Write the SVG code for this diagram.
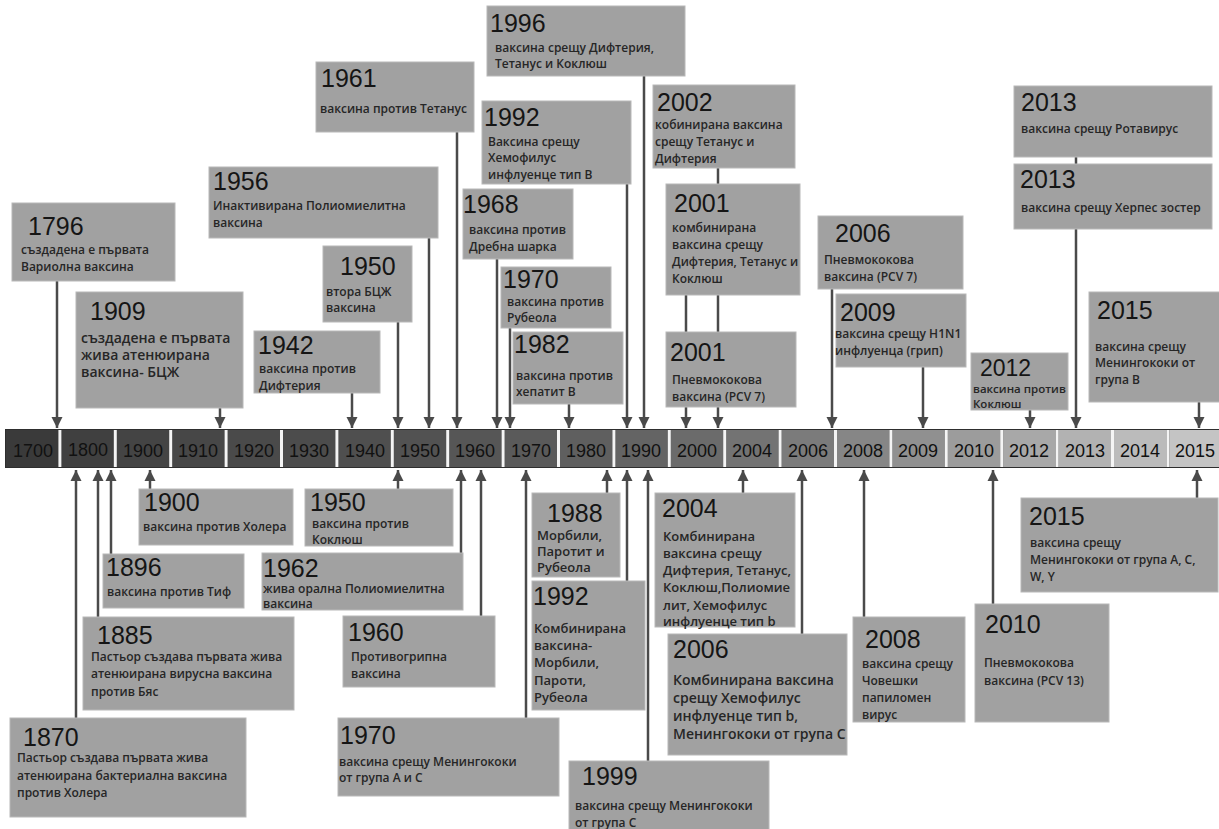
<svg xmlns="http://www.w3.org/2000/svg" width="1219" height="829" viewBox="0 0 1219 829">
<style>
.b{fill:#a1a1a1;stroke:#b8b8b8;stroke-width:1}
.y{font-family:"Liberation Sans",Arial,sans-serif;font-size:25px;fill:#151515}
.d{font-family:"Open Sans","Noto Sans",sans-serif;font-weight:600;font-size:12px;fill:#262626}
.d13{font-size:13px}
.d14{font-size:14px}
.c{stroke:#4a4a4a;stroke-width:2.5;fill:none}
.a{marker-end:url(#ah)}
.t{font-family:"Liberation Sans",Arial,sans-serif;font-size:18px;fill:#111;text-anchor:middle}
</style>
<defs>
<marker id="ah" viewBox="0 0 10 10" refX="10" refY="5" markerWidth="11" markerHeight="12" markerUnits="userSpaceOnUse" orient="auto"><path d="M0,0 L10,5 L0,10 z" fill="#4a4a4a"/></marker>
</defs>
<rect width="1219" height="829" fill="#ffffff"/>

<g id="timeline">
<rect x="5" y="429" width="1214" height="39" fill="#2e2e2e"/>
<rect x="6" y="430" width="52.4" height="37" fill="#3a3a3a"/>
<rect x="61.4" y="430" width="52.4" height="37" fill="#404040"/>
<rect x="116.8" y="430" width="52.4" height="37" fill="#444444"/>
<rect x="172.2" y="430" width="52.4" height="37" fill="#474747"/>
<rect x="227.6" y="430" width="52.4" height="37" fill="#4a4a4a"/>
<rect x="283" y="430" width="52.4" height="37" fill="#4c4c4c"/>
<rect x="338.4" y="430" width="52.4" height="37" fill="#4f4f4f"/>
<rect x="393.8" y="430" width="52.4" height="37" fill="#525252"/>
<rect x="449.2" y="430" width="52.4" height="37" fill="#565656"/>
<rect x="504.6" y="430" width="52.4" height="37" fill="#5a5a5a"/>
<rect x="560" y="430" width="52.4" height="37" fill="#5f5f5f"/>
<rect x="615.4" y="430" width="52.4" height="37" fill="#646464"/>
<rect x="670.8" y="430" width="52.4" height="37" fill="#6b6b6b"/>
<rect x="726.2" y="430" width="52.4" height="37" fill="#737373"/>
<rect x="781.6" y="430" width="52.4" height="37" fill="#7b7b7b"/>
<rect x="837" y="430" width="52.4" height="37" fill="#868686"/>
<rect x="892.4" y="430" width="52.4" height="37" fill="#909090"/>
<rect x="947.8" y="430" width="52.4" height="37" fill="#9c9c9c"/>
<rect x="1003.2" y="430" width="52.4" height="37" fill="#a8a8a8"/>
<rect x="1058.6" y="430" width="52.4" height="37" fill="#b2b2b2"/>
<rect x="1114" y="430" width="52.4" height="37" fill="#bbbbbb"/>
<rect x="1169.4" y="430" width="52.4" height="37" fill="#c4c4c4"/>
<g fill="#f4f4f4">
<rect x="58.4" y="430" width="3" height="37"/><rect x="113.8" y="430" width="3" height="37"/><rect x="169.2" y="430" width="3" height="37"/><rect x="224.6" y="430" width="3" height="37"/><rect x="280" y="430" width="3" height="37"/><rect x="335.4" y="430" width="3" height="37"/><rect x="390.8" y="430" width="3" height="37"/><rect x="446.2" y="430" width="3" height="37"/><rect x="501.6" y="430" width="3" height="37"/><rect x="557" y="430" width="3" height="37"/><rect x="612.4" y="430" width="3" height="37"/><rect x="667.8" y="430" width="3" height="37"/><rect x="723.2" y="430" width="3" height="37"/><rect x="778.6" y="430" width="3" height="37"/><rect x="834" y="430" width="3" height="37"/><rect x="889.4" y="430" width="3" height="37"/><rect x="944.8" y="430" width="3" height="37"/><rect x="1000.2" y="430" width="3" height="37"/><rect x="1055.6" y="430" width="3" height="37"/><rect x="1111" y="430" width="3" height="37"/><rect x="1166.4" y="430" width="3" height="37"/>
</g>
<text class="t" x="33" y="457">1700</text>
<text class="t" x="88" y="456">1800</text>
<text class="t" x="143" y="457">1900</text>
<text class="t" x="198" y="457">1910</text>
<text class="t" x="254" y="457">1920</text>
<text class="t" x="309" y="457">1930</text>
<text class="t" x="365" y="457">1940</text>
<text class="t" x="420" y="457">1950</text>
<text class="t" x="475" y="457">1960</text>
<text class="t" x="531" y="457">1970</text>
<text class="t" x="586" y="457">1980</text>
<text class="t" x="641" y="457">1990</text>
<text class="t" x="697" y="457">2000</text>
<text class="t" x="752" y="457">2004</text>
<text class="t" x="808" y="457">2006</text>
<text class="t" x="863" y="457">2008</text>
<text class="t" x="918" y="457">2009</text>
<text class="t" x="974" y="457">2010</text>
<text class="t" x="1029" y="457">2012</text>
<text class="t" x="1085" y="457">2013</text>
<text class="t" x="1140" y="457">2014</text>
<text class="t" x="1195" y="457">2015</text>
</g>

<g id="connectors">
<line class="c a" x1="57" y1="281" x2="57" y2="428"/>
<line class="c a" x1="220" y1="408" x2="220" y2="428"/>
<line class="c a" x1="352" y1="393" x2="352" y2="428"/>
<line class="c a" x1="398" y1="322" x2="398" y2="428"/>
<line class="c a" x1="429" y1="238" x2="429" y2="428"/>
<line class="c a" x1="457" y1="132" x2="457" y2="428"/>
<line class="c a" x1="497" y1="259" x2="497" y2="428"/>
<line class="c a" x1="510" y1="328" x2="510" y2="428"/>
<line class="c a" x1="569" y1="404" x2="569" y2="428"/>
<line class="c a" x1="627" y1="184" x2="627" y2="428"/>
<line class="c a" x1="644" y1="76" x2="644" y2="428"/>
<line class="c" x1="718" y1="168" x2="718" y2="184"/>
<line class="c" x1="686" y1="295" x2="686" y2="332"/>
<line class="c" x1="718" y1="295" x2="718" y2="332"/>
<line class="c a" x1="686" y1="407" x2="686" y2="428"/>
<line class="c a" x1="718" y1="407" x2="718" y2="428"/>
<line class="c a" x1="832" y1="289" x2="832" y2="428"/>
<line class="c a" x1="923" y1="367" x2="923" y2="428"/>
<line class="c a" x1="1030" y1="410" x2="1030" y2="428"/>
<line class="c" x1="1076" y1="157" x2="1076" y2="164"/>
<line class="c a" x1="1076" y1="229" x2="1076" y2="428"/>
<line class="c a" x1="1199" y1="402" x2="1199" y2="428"/>

<line class="c a" x1="150" y1="489" x2="150" y2="470"/>
<line class="c a" x1="111" y1="554" x2="111" y2="470"/>
<line class="c a" x1="98" y1="617" x2="98" y2="470"/>
<line class="c a" x1="76" y1="718" x2="76" y2="470"/>
<line class="c a" x1="398" y1="489" x2="398" y2="470"/>
<line class="c a" x1="461" y1="553" x2="461" y2="470"/>
<line class="c a" x1="481" y1="616" x2="481" y2="470"/>
<line class="c a" x1="526" y1="718" x2="526" y2="470"/>
<line class="c a" x1="607" y1="493" x2="607" y2="470"/>
<line class="c a" x1="627" y1="581" x2="627" y2="470"/>
<line class="c a" x1="648" y1="761" x2="648" y2="470"/>
<line class="c a" x1="743" y1="493" x2="743" y2="470"/>
<line class="c a" x1="802" y1="634" x2="802" y2="470"/>
<line class="c a" x1="864" y1="617" x2="864" y2="470"/>
<line class="c a" x1="993" y1="604" x2="993" y2="470"/>
<line class="c a" x1="1197" y1="498" x2="1197" y2="470"/>
</g>

<g id="n1796"><rect class="b" x="12" y="203" width="163" height="78"/><text class="y" x="28" y="235">1796</text><text class="d" x="21" y="254">създадена е първата</text><text class="d" x="21" y="271">Вариолна ваксина</text></g>
<g id="n1909"><rect class="b" x="76" y="292" width="167" height="116"/><text class="y" x="90" y="320">1909</text><text class="d d14" x="81" y="343">създадена е първата</text><text class="d d14" x="81" y="360">жива атенюирана</text><text class="d d14" x="81" y="377">ваксина- БЦЖ</text></g>
<g id="n1942"><rect class="b" x="254" y="331" width="126" height="62"/><text class="y" x="258" y="354">1942</text><text class="d" x="259" y="373">ваксина против</text><text class="d" x="259" y="390">Дифтерия</text></g>
<g id="n1950a"><rect class="b" x="323" y="246" width="89" height="76"/><text class="y" x="340" y="275">1950</text><text class="d" x="326" y="296">втора БЦЖ</text><text class="d" x="326" y="312">ваксина</text></g>
<g id="n1956"><rect class="b" x="209" y="167" width="229" height="71"/><text class="y" x="213" y="190">1956</text><text class="d" x="213" y="210">Инактивирана Полиомиелитна</text><text class="d" x="213" y="227">ваксина</text></g>
<g id="n1961"><rect class="b" x="316" y="62" width="158" height="70"/><text class="y" x="321" y="87">1961</text><text class="d" x="320" y="113">ваксина против Тетанус</text></g>
<g id="n1968"><rect class="b" x="463" y="189" width="110" height="70"/><text class="y" x="463" y="213">1968</text><text class="d" x="469" y="234">ваксина против</text><text class="d" x="469" y="251">Дребна шарка</text></g>
<g id="n1992a"><rect class="b" x="482" y="101" width="149" height="83"/><text class="y" x="484" y="126">1992</text><text class="d" x="488" y="146">Ваксина срещу</text><text class="d" x="488" y="162">Хемофилус</text><text class="d" x="488" y="179">инфлуенце тип В</text></g>
<g id="n1996"><rect class="b" x="487" y="6" width="198" height="70"/><text class="y" x="490" y="32">1996</text><text class="d" x="495" y="52">ваксина срещу Дифтерия,</text><text class="d" x="495" y="68">Тетанус и Коклюш</text></g>
<g id="n1970a"><rect class="b" x="501" y="267" width="110" height="61"/><text class="y" x="503" y="288">1970</text><text class="d" x="507" y="306">ваксина против</text><text class="d" x="507" y="322">Рубеола</text></g>
<g id="n1982"><rect class="b" x="513" y="332" width="110" height="72"/><text class="y" x="514" y="353">1982</text><text class="d" x="516" y="380">ваксина против</text><text class="d" x="516" y="396">хепатит В</text></g>
<g id="n2002"><rect class="b" x="653" y="85" width="142" height="83"/><text class="y" x="657" y="111">2002</text><text class="d" x="655" y="129">кобинирана ваксина</text><text class="d" x="655" y="146">срещу Тетанус и</text><text class="d" x="655" y="163">Дифтерия</text></g>
<g id="n2001a"><rect class="b" x="666" y="184" width="134" height="111"/><text class="y" x="674" y="212">2001</text><text class="d" x="672" y="232">комбинирана</text><text class="d" x="672" y="249">ваксина срещу</text><text class="d" x="672" y="266">Дифтерия, Тетанус и</text><text class="d" x="672" y="283">Коклюш</text></g>
<g id="n2001b"><rect class="b" x="666" y="332" width="130" height="75"/><text class="y" x="670" y="361">2001</text><text class="d" x="672" y="384">Пневмококова</text><text class="d" x="672" y="401">ваксина (PCV 7)</text></g>
<g id="n2006a"><rect class="b" x="818" y="216" width="145" height="73"/><text class="y" x="835" y="242">2006</text><text class="d" x="824" y="264">Пневмококова</text><text class="d" x="824" y="281">ваксина (PCV 7)</text></g>
<g id="n2009"><rect class="b" x="836" y="294" width="130" height="73"/><text class="y" x="840" y="321">2009</text><text class="d" x="835" y="338">ваксина срещу H1N1</text><text class="d" x="835" y="355">инфлуенца (грип)</text></g>
<g id="n2012"><rect class="b" x="971" y="353" width="97" height="57"/><text class="y" x="980" y="376" style="font-size:23px">2012</text><text class="d" x="973" y="393" style="font-size:11.5px">ваксина против</text><text class="d" x="973" y="408" style="font-size:11.5px">Коклюш</text></g>
<g id="n2013a"><rect class="b" x="1014" y="86" width="198" height="71"/><text class="y" x="1021" y="111">2013</text><text class="d" x="1021" y="133">ваксина срещу Ротавирус</text></g>
<g id="n2013b"><rect class="b" x="1014" y="164" width="198" height="65"/><text class="y" x="1020" y="188">2013</text><text class="d" x="1021" y="212">ваксина срещу Херпес зостер</text></g>
<g id="n2015a"><rect class="b" x="1089" y="292" width="131" height="110"/><text class="y" x="1097" y="319">2015</text><text class="d" x="1095" y="351">ваксина срещу</text><text class="d" x="1095" y="367">Менингококи от</text><text class="d" x="1095" y="384">група В</text></g>

<g id="n1900"><rect class="b" x="139" y="489" width="154" height="56"/><text class="y" x="144" y="511">1900</text><text class="d" x="143" y="531">ваксина против Холера</text></g>
<g id="n1896"><rect class="b" x="103" y="554" width="141" height="54"/><text class="y" x="106" y="576">1896</text><text class="d" x="107" y="596">ваксина против Тиф</text></g>
<g id="n1885"><rect class="b" x="83" y="617" width="211" height="93"/><text class="y" x="97" y="644">1885</text><text class="d" x="91" y="661">Пастьор създава първата жива</text><text class="d" x="91" y="678">атенюирана вирусна ваксина</text><text class="d" x="91" y="696">против Бяс</text></g>
<g id="n1870"><rect class="b" x="10" y="718" width="236" height="99"/><text class="y" x="23" y="746">1870</text><text class="d" x="17" y="762">Пастьор създава първата жива</text><text class="d" x="17" y="780">атенюирана бактериална ваксина</text><text class="d" x="17" y="797">против Холера</text></g>
<g id="n1950b"><rect class="b" x="305" y="489" width="148" height="57"/><text class="y" x="310" y="511">1950</text><text class="d" x="312" y="528">ваксина против</text><text class="d" x="312" y="544">Коклюш</text></g>
<g id="n1962"><rect class="b" x="262" y="553" width="201" height="57"/><text class="y" x="263" y="577">1962</text><text class="d" x="263" y="593">жива орална Полиомиелитна</text><text class="d" x="263" y="608">ваксина</text></g>
<g id="n1960"><rect class="b" x="343" y="616" width="152" height="71"/><text class="y" x="348" y="641">1960</text><text class="d" x="351" y="661">Противогрипна</text><text class="d" x="351" y="678">ваксина</text></g>
<g id="n1970b"><rect class="b" x="338" y="718" width="221" height="78"/><text class="y" x="340" y="744">1970</text><text class="d" x="339" y="766">ваксина срещу Менингококи</text><text class="d" x="339" y="782">от група А и С</text></g>
<g id="n1988"><rect class="b" x="532" y="493" width="88" height="84"/><text class="y" x="547" y="522">1988</text><text class="d d13" x="537" y="540">Морбили,</text><text class="d d13" x="537" y="556">Паротит и</text><text class="d d13" x="537" y="572">Рубеола</text></g>
<g id="n1992b"><rect class="b" x="532" y="581" width="113" height="129"/><text class="y" x="533" y="605">1992</text><text class="d d13" x="534" y="633">Комбинирана</text><text class="d d13" x="534" y="650">ваксина-</text><text class="d d13" x="534" y="667">Морбили,</text><text class="d d13" x="534" y="685">Пароти,</text><text class="d d13" x="534" y="702">Рубеола</text></g>
<g id="n1999"><rect class="b" x="569" y="761" width="200" height="70"/><text class="y" x="582" y="785">1999</text><text class="d" x="575" y="810">ваксина срещу Менингококи</text><text class="d" x="575" y="827">от група С</text></g>
<g id="n2004"><rect class="b" x="655" y="493" width="140" height="134"/><text class="y" x="662" y="517">2004</text><text class="d d13" x="663" y="541">Комбинирана</text><text class="d d13" x="663" y="558">ваксина срещу</text><text class="d d13" x="663" y="575">Дифтерия, Тетанус,</text><text class="d d13" x="663" y="592">Коклюш,Полиомие</text><text class="d d13" x="663" y="610">лит, Хемофилус</text><text class="d d13" x="663" y="626">инфлуенце тип b</text></g>
<g id="n2006b"><rect class="b" x="668" y="634" width="179" height="121"/><text class="y" x="673" y="658">2006</text><text class="d d14" x="673" y="685">Комбинирана ваксина</text><text class="d d14" x="673" y="703">срещу Хемофилус</text><text class="d d14" x="673" y="721">инфлуенце тип b,</text><text class="d d14" x="673" y="739">Менингококи от група С</text></g>
<g id="n2008"><rect class="b" x="853" y="617" width="112" height="105"/><text class="y" x="865" y="648">2008</text><text class="d" x="862" y="668">ваксина срещу</text><text class="d" x="862" y="685">Човешки</text><text class="d" x="862" y="702">папиломен</text><text class="d" x="862" y="719">вирус</text></g>
<g id="n2010"><rect class="b" x="975" y="604" width="134" height="118"/><text class="y" x="985" y="633">2010</text><text class="d" x="984" y="667">Пневмококова</text><text class="d" x="984" y="685">ваксина (PCV 13)</text></g>
<g id="n2015b"><rect class="b" x="1021" y="498" width="197" height="94"/><text class="y" x="1029" y="525">2015</text><text class="d" x="1030" y="547">ваксина срещу</text><text class="d" x="1030" y="564">Менингококи от група А, С,</text><text class="d" x="1030" y="581">W, Y</text></g>
</svg>
